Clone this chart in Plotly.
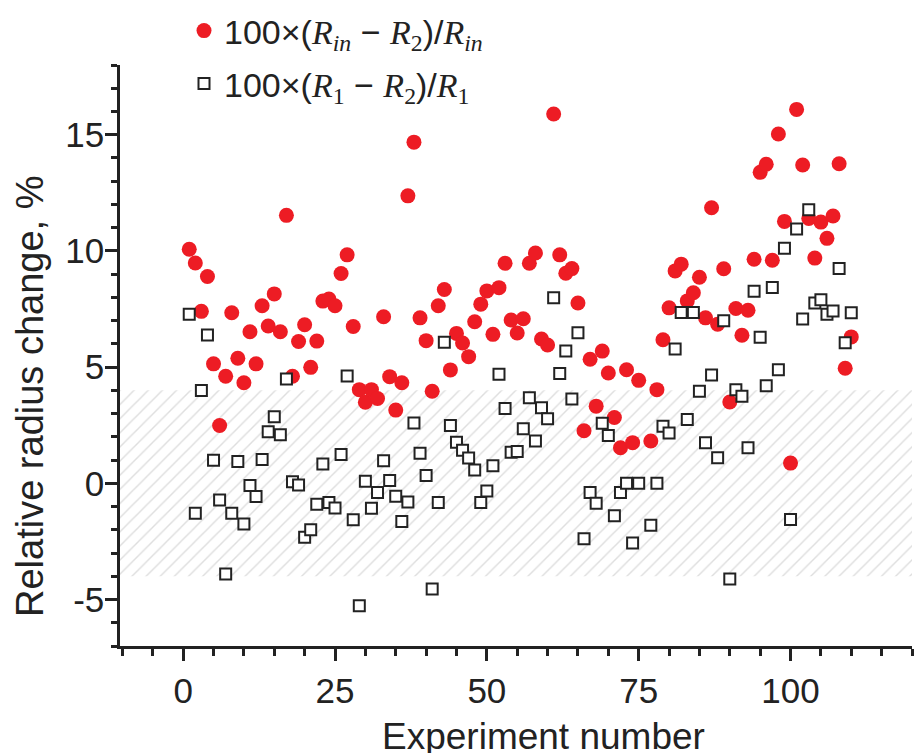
import plotly.graph_objects as go

experiment = [1, 2, 3, 4, 5, 6, 7, 8, 9, 10,
              11, 12, 13, 14, 15, 16, 17, 18, 19, 20,
              21, 22, 23, 24, 25, 26, 27, 28, 29, 30,
              31, 32, 33, 34, 35, 36, 37, 38, 39, 40,
              41, 42, 43, 44, 45, 46, 47, 48, 49, 50,
              51, 52, 53, 54, 55, 56, 57, 58, 59, 60,
              61, 62, 63, 64, 65, 66, 67, 68, 69, 70,
              71, 72, 73, 74, 75, 77, 78, 79, 80,
              81, 82, 83, 84, 85, 86, 87, 88, 89, 90,
              91, 92, 93, 94, 95, 96, 97, 98, 99, 100,
              101, 102, 103, 104, 105, 106, 107, 108, 109, 110]

change_rin = [10.07, 9.48, 7.4, 8.9, 5.14, 2.49, 4.61, 7.34, 5.38, 4.33,
              6.52, 5.14, 7.64, 6.77, 8.15, 6.52, 11.53, 4.61, 6.1, 6.82,
              4.99, 6.12, 7.84, 7.93, 7.64, 9.03, 9.83, 6.75, 4.03, 3.49,
              4.03, 3.65, 7.17, 4.59, 3.15, 4.33, 12.37, 14.68, 7.12, 6.14,
              3.96, 7.64, 8.34, 4.88, 6.45, 6.04, 5.45, 6.95, 7.71, 8.28,
              6.41, 8.42, 9.47, 7.03, 6.47, 7.08, 9.47, 9.91, 6.21, 5.95,
              15.89, 9.83, 9.04, 9.24, 7.76, 2.26, 5.34, 3.32, 5.69, 4.75,
              2.83, 1.53, 4.89, 1.75, 4.43, 1.82, 4.03, 6.18, 7.55,
              9.14, 9.43, 7.85, 8.2, 8.87, 7.12, 11.86, 6.85, 9.23, 3.5,
              7.52, 6.37, 7.45, 9.64, 13.38, 13.73, 9.6, 15.03, 11.27, 0.87,
              16.09, 13.7, 11.4, 9.69, 11.24, 10.54, 11.5, 13.75, 4.95, 6.3]

change_r1 = [7.28, -1.29, 3.99, 6.38, 0.99, -0.72, -3.9, -1.29, 0.94, -1.75,
             -0.09, -0.57, 1.02, 2.22, 2.86, 2.09, 4.49, 0.07, -0.07, -2.32,
             -2.0, -0.9, 0.83, -0.83, -1.06, 1.24, 4.62, -1.57, -5.27, 0.09,
             -1.07, -0.39, 0.97, 0.12, -0.56, -1.64, -0.8, 2.6, 1.29, 0.34,
             -4.55, -0.83, 6.07, 2.49, 1.77, 1.42, 1.09, 0.57, -0.82, -0.33,
             0.76, 4.69, 3.22, 1.34, 1.37, 2.35, 3.68, 1.82, 3.25, 2.78,
             7.98, 4.73, 5.69, 3.63, 6.48, -2.39, -0.4, -0.86, 2.58, 2.06,
             -1.4, -0.4, 0.0, -2.57, 0.0, -1.8, 0.0, 2.46, 2.17,
             5.78, 7.35, 2.75, 7.35, 3.96, 1.75, 4.66, 1.1, 7.0, -4.12,
             4.03, 3.75, 1.53, 8.27, 6.28, 4.2, 8.43, 4.89, 10.11, -1.56,
             10.94, 7.07, 11.77, 7.76, 7.9, 7.28, 7.41, 9.24, 6.05, 7.34]

band_low, band_high = -4, 4
x_range = [-10.4, 120]
y_range = [-7, 18]
y_tickvals = [-5, 0, 5, 10, 15]
y_ticktext = ["-5", "0", "5", "10", "15"]
x_tickvals = [0, 25, 50, 75, 100]
x_title = "Experiment number"
y_title = "Relative radius change, %"

RED = "#ED1C24"
INK = "#222"


def serif(s):
    return f"<span style='font-family:Liberation Serif'>{s}</span>"


R = serif("<i>R</i>")
sub_in = f"<sub>{serif('<i>in</i>')}</sub>"
sub_1 = f"<sub>{serif('1')}</sub>"
sub_2 = f"<sub>{serif('2')}</sub>"
name_in = f"100×({R}{sub_in} − {R}{sub_2})/{R}{sub_in}"
name_1 = f"100×({R}{sub_1} − {R}{sub_2})/{R}{sub_1}"

fig = go.Figure()

fig.add_trace(go.Scatter(
    x=[x_range[0], x_range[1], x_range[1], x_range[0], x_range[0]],
    y=[band_low, band_low, band_high, band_high, band_low],
    fill="toself", mode="lines", line=dict(width=0),
    fillcolor="rgba(255,255,255,0)",
    fillpattern=dict(shape="/", fgcolor="#bdbdbd", bgcolor="white", size=10, solidity=0.14),
    showlegend=False, hoverinfo="skip"))

fig.add_trace(go.Scatter(
    x=experiment, y=change_rin, mode="markers", name=name_in, legend="legend",
    marker=dict(symbol="circle", size=15, color=RED, line=dict(width=0))))

fig.add_trace(go.Scatter(
    x=experiment, y=change_r1, mode="markers", name=name_1, legend="legend2",
    marker=dict(symbol="square", size=11, color="white", line=dict(width=2, color=INK))))

font = "Liberation Sans, Arial, sans-serif"
leg_common = dict(xref="container", yref="container", xanchor="left", yanchor="middle",
                  bgcolor="rgba(0,0,0,0)", font=dict(size=34, color=INK))

L, T, B, Rm, W, H = 120, 65, 107, 2, 914, 753
pw, ph = W - L - Rm, H - T - B

fig.update_layout(
    width=W, height=H,
    margin=dict(l=L, r=Rm, t=T, b=B, autoexpand=False),
    paper_bgcolor="white", plot_bgcolor="white",
    font=dict(family=font, color=INK, size=30),
    legend=dict(x=184 / W, y=1 - 31 / H, **leg_common),
    legend2=dict(x=184 / W, y=1 - 84 / H, **leg_common),
    xaxis=dict(range=x_range, tickvals=x_tickvals, showgrid=False, zeroline=False,
               showline=True, linecolor=INK, linewidth=2.5,
               ticks="outside", ticklen=12, tickwidth=2.5, tickcolor=INK,
               tickfont=dict(size=35),
               minor=dict(dtick=5, tick0=0, ticks="outside", ticklen=7, tickwidth=2.5, tickcolor=INK)),
    yaxis=dict(range=y_range, tickvals=y_tickvals, ticktext=y_ticktext, showgrid=False, zeroline=False,
               showline=True, linecolor=INK, linewidth=2.5,
               ticks="outside", ticklen=12, tickwidth=2.5, tickcolor=INK,
               tickfont=dict(size=35), ticklabelstandoff=-6,
               minor=dict(dtick=1, tick0=0, ticks="outside", ticklen=6, tickwidth=2.5, tickcolor=INK)),
    annotations=[
        dict(text=x_title, xref="paper", yref="paper", x=(543 - L) / pw, y=(H - B - 736) / ph,
             xanchor="center", yanchor="middle", showarrow=False, font=dict(size=37, color=INK)),
        dict(text=y_title, xref="paper", yref="paper", x=(30 - L) / pw, y=(H - B - 397) / ph,
             xanchor="center", yanchor="middle", showarrow=False, textangle=-90,
             font=dict(size=38, color=INK)),
    ],
)

fig.write_html("out.html", config={"displayModeBar": False},
               post_script="document.body.style.margin='0';")
